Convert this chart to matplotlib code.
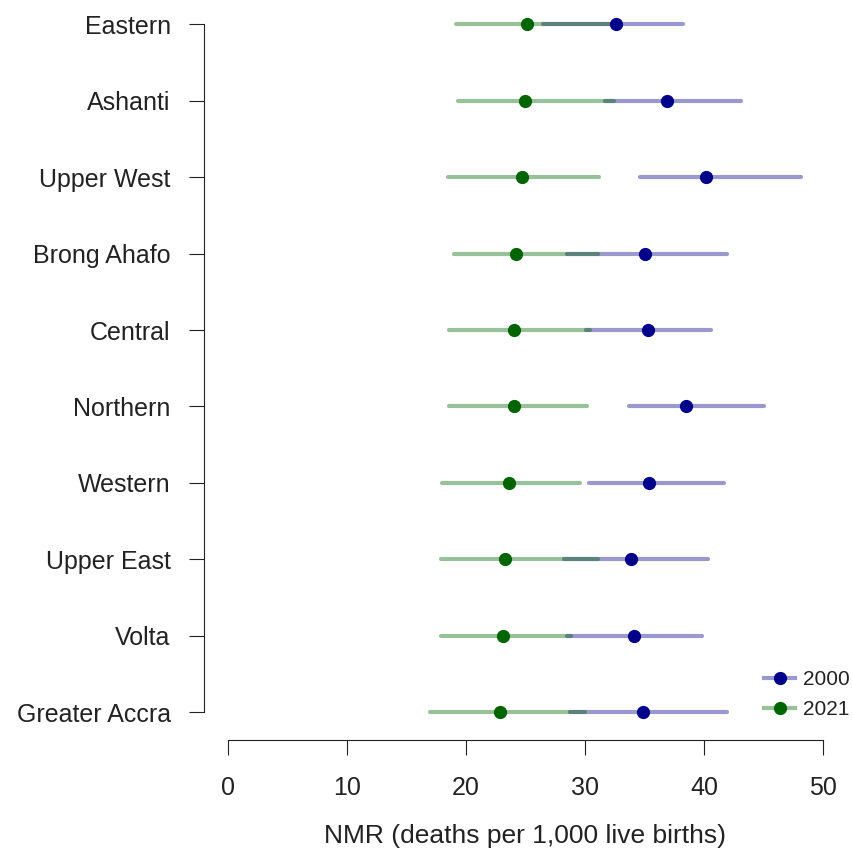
import matplotlib
matplotlib.use("Agg")
import matplotlib.pyplot as plt
from matplotlib.lines import Line2D

plt.rcParams['font.family'] = ['Liberation Sans', 'DejaVu Sans']

# regions, bottom to top
regions = ["Greater Accra", "Volta", "Upper East", "Western", "Northern",
           "Central", "Brong Ahafo", "Upper West", "Ashanti", "Eastern"]

nmr_2000 = [34.9, 34.1, 33.9, 35.4, 38.5, 35.3, 35.0, 40.2, 36.9, 32.6]
lo_2000 = [28.7, 28.5, 28.2, 30.3, 33.7, 30.1, 28.5, 34.6, 31.7, 26.5]
hi_2000 = [41.9, 39.8, 40.3, 41.7, 45.0, 40.6, 41.9, 48.1, 43.1, 38.2]

nmr_2021 = [22.9, 23.1, 23.3, 23.6, 24.0, 24.0, 24.2, 24.7, 25.0, 25.1]
lo_2021 = [17.0, 17.9, 17.9, 18.0, 18.6, 18.6, 19.0, 18.5, 19.3, 19.2]
hi_2021 = [30.0, 28.8, 31.1, 29.6, 30.2, 30.4, 31.1, 31.2, 32.4, 32.3]

xticks = [0, 10, 20, 30, 40, 50]

BLUE = "darkblue"
GREEN = "darkgreen"

fig = plt.figure(figsize=(8.54, 8.48), dpi=100)
ax = fig.add_axes([204 / 854, 108 / 848, 643 / 854, 743.5 / 848])

ypos = list(range(1, len(regions) + 1))

# interval lines, 2021 drawn over 2000 so overlaps darken
for y, lo, hi in zip(ypos, lo_2000, hi_2000):
    ax.plot([lo, hi], [y, y], color=BLUE, alpha=0.4, lw=3, solid_capstyle='round')
for y, lo, hi in zip(ypos, lo_2021, hi_2021):
    ax.plot([lo, hi], [y, y], color=GREEN, alpha=0.4, lw=3, solid_capstyle='round')

ax.plot(nmr_2000, ypos, 'o', color=BLUE, ms=8.5, ls='none')
ax.plot(nmr_2021, ypos, 'o', color=GREEN, ms=8.5, ls='none')

ax.set_xlim(-2, 52)
ax.set_ylim(0.64, 10.36)

ax.spines['top'].set_visible(False)
ax.spines['right'].set_visible(False)
ax.spines['left'].set_bounds(1, 10)
ax.spines['bottom'].set_bounds(0, 50)
for s in ('left', 'bottom'):
    ax.spines[s].set_linewidth(0.8)
    ax.spines[s].set_color('#222222')

ax.set_yticks(ypos)
ax.set_yticklabels(regions, fontsize=18)
ax.set_xticks(xticks)
ax.set_xticklabels([str(t) for t in xticks], fontsize=18)
ax.tick_params(axis='y', length=11, width=0.8, pad=13, colors='#222222',
               labelcolor='#222222')
ax.tick_params(axis='x', length=11, width=0.8, pad=15, colors='#222222',
               labelcolor='#222222')

ax.set_xlabel("NMR (deaths per 1,000 live births)", fontsize=19,
              labelpad=17, color='#222222')

handles = [
    Line2D([], [], color=(153/255, 153/255, 209/255), lw=3, marker='o',
           markerfacecolor=BLUE, markeredgecolor=BLUE, ms=8.5),
    Line2D([], [], color=(153/255, 193/255, 153/255), lw=3, marker='o',
           markerfacecolor=GREEN, markeredgecolor=GREEN, ms=8.5),
]
fig.legend(handles, ["2000", "2021"], loc='upper left',
           bbox_to_anchor=(764 / 854, 1 - 670 / 848), frameon=False,
           fontsize=15, handlelength=1.49, handletextpad=0.39,
           labelspacing=0.55, borderpad=0, borderaxespad=0,
           labelcolor='#222222')

fig.savefig("out.png", dpi=100, facecolor='white')
